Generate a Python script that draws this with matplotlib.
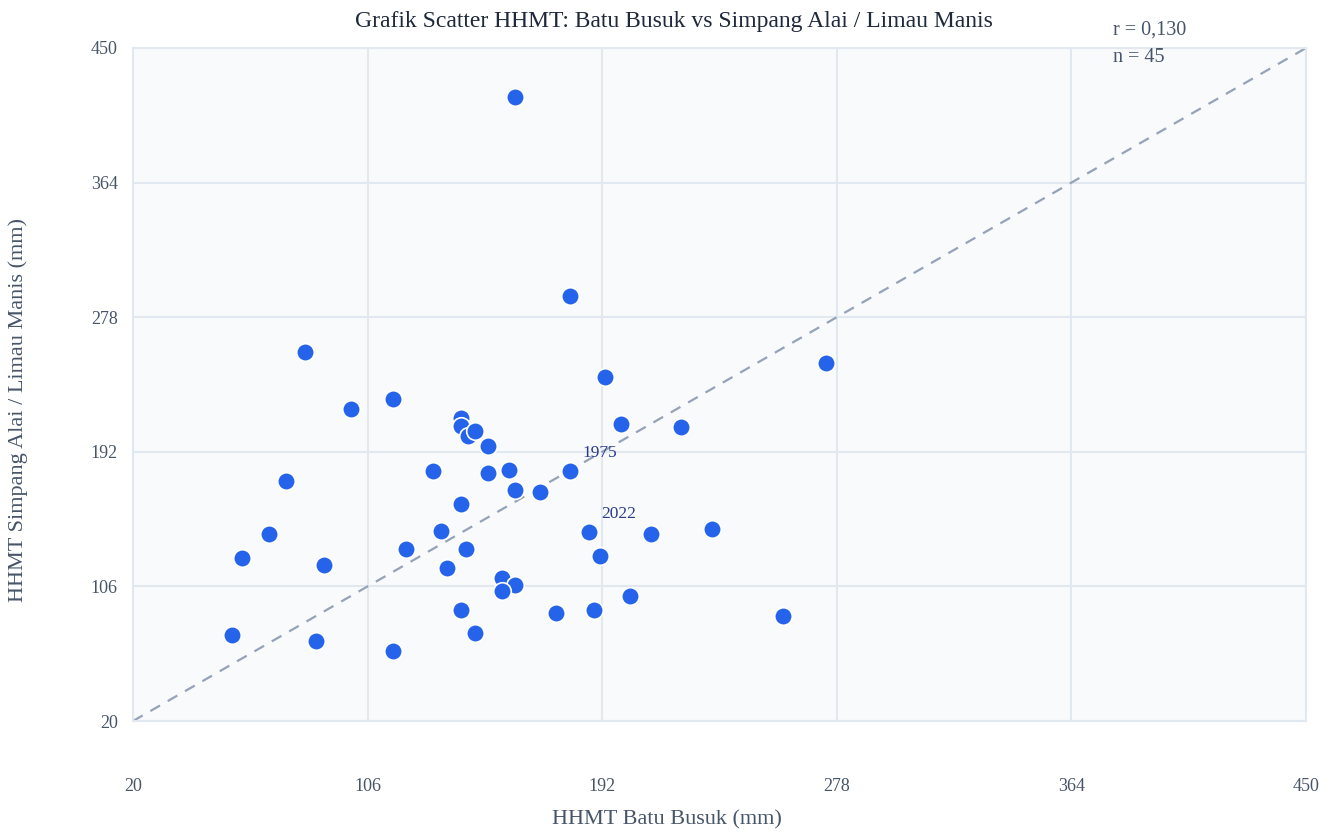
import matplotlib
matplotlib.use("Agg")
import matplotlib.pyplot as plt
import numpy as np

# HHMT values (mm)
batu_busuk = [160.0, 180.2, 83.0, 274.0, 193.0, 99.9, 115.3, 140.2, 140.2, 142.8,
              145.4, 150.1, 198.9, 220.9, 130.0, 150.1, 157.8, 180.2, 76.1, 160.0,
              169.2, 140.2, 132.9, 69.9, 187.2, 209.9, 232.3, 120.1, 142.1, 191.2,
              60.0, 90.0, 135.1, 155.3, 160.0, 155.3, 202.2, 140.2, 189.0, 175.1,
              258.3, 56.3, 145.4, 87.1, 115.3]
simpang_alai = [418.7, 291.5, 255.8, 248.7, 239.8, 219.3, 225.7, 213.6, 208.5, 202.1,
                205.3, 195.7, 209.8, 207.8, 179.7, 178.5, 180.4, 179.7, 173.3, 167.6,
                166.3, 158.6, 141.4, 139.5, 140.8, 139.5, 142.7, 129.9, 129.9, 125.4,
                124.1, 119.7, 117.8, 111.4, 106.9, 103.1, 99.9, 90.9, 90.9, 89.0,
                87.1, 74.9, 76.2, 71.1, 64.7]

labels = {"1975": (180.2, 179.7), "2022": (187.2, 140.8)}
ticks = [20, 106, 192, 278, 364, 450]
r_value = "0,130"

plt.rcParams["font.family"] = ["Liberation Serif", "DejaVu Serif"]

fig = plt.figure(figsize=(13.36, 8.32), dpi=100)
ax = fig.add_axes([133 / 1336, 1 - 721 / 832, 1173 / 1336, 673 / 832])
ax.set_facecolor("#f8fafc")

ax.set_xlim(20, 450)
ax.set_ylim(20, 450)
ax.set_xticks(ticks)
ax.set_yticks(ticks)
ax.grid(True, color="#e2e8f0", linewidth=1.5)
ax.set_axisbelow(True)
for s in ax.spines.values():
    s.set_color("#e2e8f0")
    s.set_linewidth(1.5)
ax.tick_params(length=0, labelsize=13, labelcolor="#475569")
ax.tick_params(axis="x", pad=41)
ax.tick_params(axis="y", pad=11)

# y = x reference line
ax.plot([20, 450], [20, 450], color="#94a3b8", linestyle=(0, (5, 4)),
        linewidth=1.6, zorder=2)

ax.scatter(batu_busuk, simpang_alai, s=160, color="#2563eb",
           edgecolor="white", linewidth=1.2, zorder=3)

for txt, (x, y) in labels.items():
    ax.annotate(txt, (x, y), xytext=(9, 10), textcoords="offset points",
                fontsize=12.5, color="#2b3a8c", zorder=4)

ax.set_xlabel("HHMT Batu Busuk (mm)", fontsize=16, color="#475569")
ax.xaxis.set_label_coords((667 - 133) / 1173, (721 - 820) / 673)
ax.set_ylabel("HHMT Simpang Alai / Limau Manis (mm)", fontsize=16,
              color="#475569")
ax.yaxis.set_label_coords((18 - 133) / 1173, (721 - 410) / 673)
ax.xaxis.label.set_va("center")
ax.yaxis.label.set_va("center")

fig.text(674 / 1336, 1 - 22 / 832, "Grafik Scatter HHMT: Batu Busuk vs Simpang Alai / Limau Manis",
         ha="center", va="center", fontsize=17, color="#1e293b")

fig.text(1113 / 1336, 1 - 30 / 832, "r = " + r_value, ha="left", va="center",
         fontsize=14.5, color="#475569")
fig.text(1113 / 1336, 1 - 58 / 832, "n = %d" % len(batu_busuk), ha="left",
         va="center", fontsize=14.5, color="#475569")

fig.savefig("out.png", dpi=100)
